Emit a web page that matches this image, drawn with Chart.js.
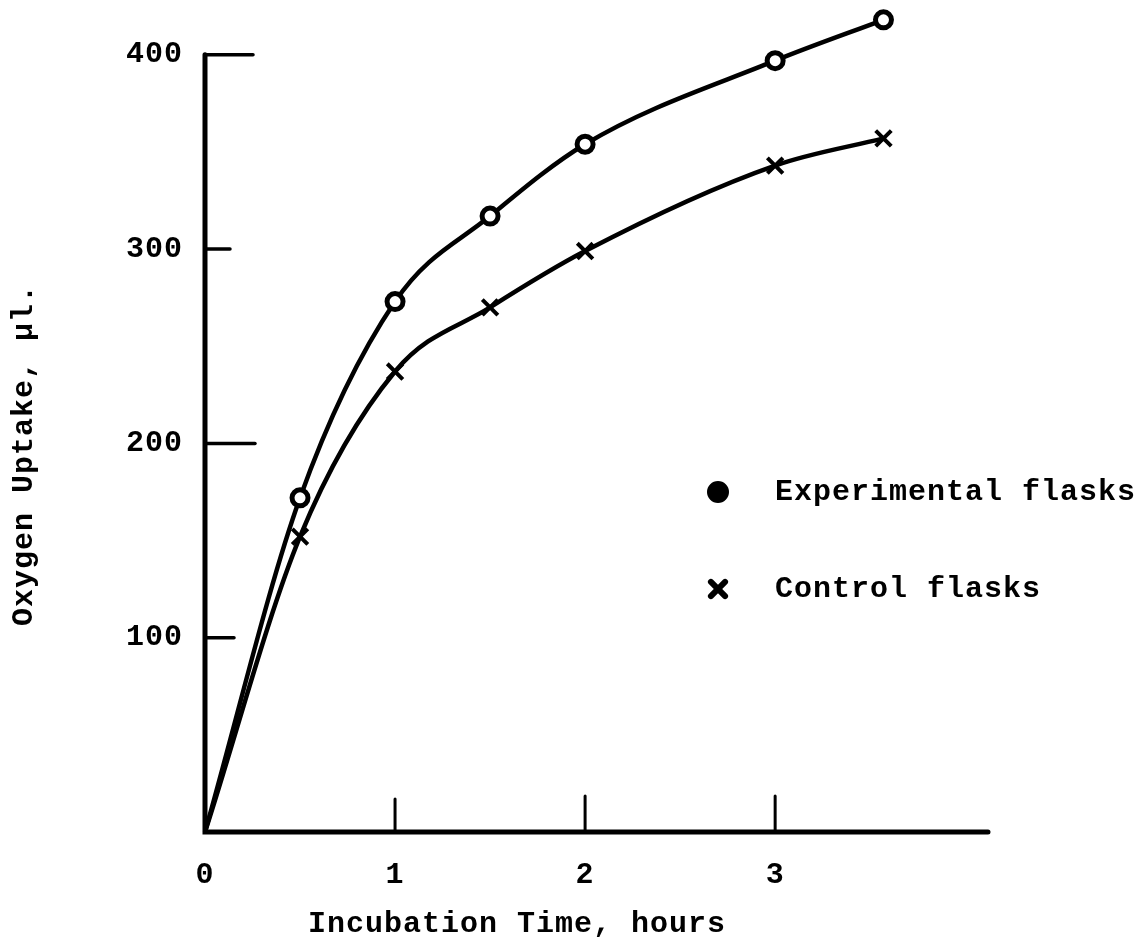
<!DOCTYPE html>
<html>
<head>
<meta charset="utf-8">
<script src="https://cdn.jsdelivr.net/npm/chart.js@4"></script>
<style>
  html, body { margin: 0; padding: 0; background: #fff; }
  #wrap { width: 1143px; height: 945px; }
</style>
</head>
<body>
<div id="wrap"><canvas id="uptake"></canvas></div>
<script>
// incubation time (hours) and oxygen uptake (microlitres)
const hours = [0, 0.5, 1, 1.5, 2, 3, 3.57];
const experimental = [0, 172, 273, 317, 354, 397, 418];
const control = [0, 152, 237, 270, 299, 343, 357];
const xTicks = [0, 1, 2, 3];
const yTicks = [100, 200, 300, 400];
const seriesNames = ["Experimental flasks", "Control flasks"];

// hand-ruled inner tick lengths
const yTickLen = [29, 50, 25, 48];
const xTickLen = [0, 33, 36, 36];

const ink = "#000";
const spacing = "1px";
const typeFont = { family: "'Liberation Mono', 'DejaVu Sans Mono', monospace", size: 30, weight: "bold" };
const fontStr = "bold 30px 'Liberation Mono', 'DejaVu Sans Mono', monospace";

function toPoints(ys) {
  return hours.map((h, i) => ({ x: h, y: ys[i] }));
}

const typewriter = {
  id: "typewriter",
  beforeUpdate(chart) { chart.ctx.letterSpacing = spacing; },
  beforeDraw(chart) { chart.ctx.letterSpacing = spacing; },
  afterDraw(chart) {
    const ctx = chart.ctx;
    const xs = chart.scales.x, ys = chart.scales.y;
    const x0 = xs.getPixelForValue(0), y0 = ys.getPixelForValue(0);
    ctx.save();
    ctx.strokeStyle = ink;
    ctx.fillStyle = ink;
    ctx.lineCap = "round";

    // axes
    ctx.lineWidth = 5;
    ctx.beginPath();
    ctx.moveTo(x0, ys.getPixelForValue(400));
    ctx.lineTo(x0, y0);
    ctx.lineTo(xs.right, y0);
    ctx.stroke();

    // ticks point inward
    ctx.lineWidth = 3.5;
    yTicks.forEach((v, i) => {
      const py = ys.getPixelForValue(v);
      ctx.beginPath();
      ctx.moveTo(x0, py);
      ctx.lineTo(x0 + yTickLen[i], py);
      ctx.stroke();
    });
    ctx.lineWidth = 3;
    xTicks.forEach((v, i) => {
      if (!xTickLen[i]) return;
      const px = xs.getPixelForValue(v);
      ctx.beginPath();
      ctx.moveTo(px, y0);
      ctx.lineTo(px, y0 - xTickLen[i]);
      ctx.stroke();
    });

    // axis titles
    ctx.font = fontStr;
    ctx.letterSpacing = spacing;
    ctx.textAlign = "center";
    ctx.textBaseline = "middle";
    ctx.fillText("Incubation Time, hours", 517, 924);
    ctx.save();
    ctx.translate(24, 455);
    ctx.rotate(-Math.PI / 2);
    ctx.fillText("Oxygen Uptake, \u03bcl.", 0, 0);
    ctx.restore();

    // key
    const keyY = [492, 589];
    const ds = chart.data.datasets;
    ctx.textAlign = "left";
    ds.forEach((d, i) => {
      ctx.lineWidth = d.legendBorder;
      ctx.fillStyle = d.legendFill;
      ctx.strokeStyle = ink;
      Chart.helpers.drawPoint(ctx, {
        pointStyle: d.pointStyle,
        radius: d.legendRadius,
        borderWidth: d.legendBorder,
        rotation: 0
      }, 718, keyY[i]);
      ctx.fillStyle = ink;
      ctx.fillText(seriesNames[i], 775, keyY[i]);
    });
    ctx.restore();
  }
};

new Chart(document.getElementById("uptake"), {
  type: "scatter",
  data: {
    datasets: [
      {
        label: seriesNames[0],
        data: toPoints(experimental),
        showLine: true,
        borderColor: ink,
        borderWidth: 4.5,
        cubicInterpolationMode: "monotone",
        pointStyle: "circle",
        pointRadius: (c) => (c.dataIndex === 0 ? 0 : 8),
        pointBorderWidth: 5,
        pointBackgroundColor: "#fff",
        pointBorderColor: ink,
        legendRadius: 8,
        legendBorder: 6,
        legendFill: ink
      },
      {
        label: seriesNames[1],
        data: toPoints(control),
        showLine: true,
        borderColor: ink,
        borderWidth: 4.5,
        cubicInterpolationMode: "monotone",
        pointStyle: "crossRot",
        pointRadius: (c) => (c.dataIndex === 0 ? 0 : 11),
        pointBorderWidth: 4,
        pointBorderColor: ink,
        legendRadius: 10,
        legendBorder: 6,
        legendFill: ink
      }
    ]
  },
  options: {
    responsive: true,
    maintainAspectRatio: false,
    animation: false,
    layout: { padding: { top: 10, right: 155, bottom: 0, left: 0 } },
    clip: false,
    plugins: {
      legend: { display: false },
      tooltip: { enabled: false }
    },
    scales: {
      x: {
        type: "linear",
        min: 0,
        max: 4.12,
        grid: { display: false, drawTicks: false },
        border: { display: false },
        ticks: { color: ink, font: typeFont, padding: 25 },
        afterBuildTicks: (s) => { s.ticks = xTicks.map((v) => ({ value: v })); },
        afterFit: (s) => {
          s.height = 113;
          s.paddingLeft = 0;
          s.paddingRight = 0;
        }
      },
      y: {
        min: 0,
        max: 420.5,
        grid: { display: false, drawTicks: false },
        border: { display: false },
        ticks: { color: ink, font: typeFont, padding: 22 },
        afterBuildTicks: (s) => { s.ticks = yTicks.map((v) => ({ value: v })); },
        afterFit: (s) => {
          s.width = 205;
          s.paddingTop = 0;
          s.paddingBottom = 0;
        }
      }
    }
  },
  plugins: [typewriter]
});
</script>
</body>
</html>
